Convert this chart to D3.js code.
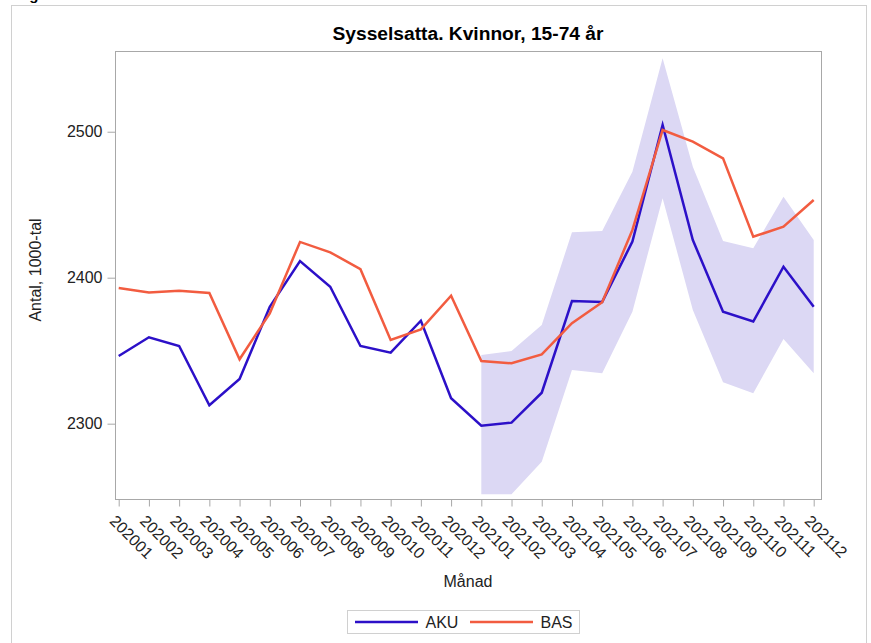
<!DOCTYPE html>
<html>
<head>
<meta charset="utf-8">
<script src="https://cdn.jsdelivr.net/npm/d3@7"></script>
<style>
  html, body { margin: 0; padding: 0; background: #fff; }
  svg { display: block; }
  text { font-family: "Liberation Sans", Arial, sans-serif; fill: #222; }
</style>
</head>
<body>
<svg id="chart" width="871" height="643"></svg>
<script>
const months = ["202001","202002","202003","202004","202005","202006","202007","202008","202009","202010","202011","202012",
                "202101","202102","202103","202104","202105","202106","202107","202108","202109","202110","202111","202112"];
const aku = [2346.4,2359.2,2353.2,2312.6,2330.6,2380.1,2411.4,2393.8,2353.2,2348.6,2370.5,2317.4,
             2298.6,2300.7,2321.2,2384.0,2383.4,2424.7,2504.6,2425.8,2376.7,2370.0,2407.5,2380.1];
const bas = [2393.0,2389.8,2391.1,2389.5,2344.1,2375.6,2424.5,2417.4,2405.8,2357.3,2364.6,2387.7,
             2342.9,2341.4,2347.5,2368.8,2383.2,2432.7,2501.2,2493.2,2481.8,2428.1,2434.9,2453.2];
const bandMonths = ["202101","202102","202103","202104","202105","202106","202107","202108","202109","202110","202111","202112"];
const bandUpper = [2347.0,2349.8,2367.6,2431.1,2432.0,2472.6,2550.3,2476.0,2425.1,2420.1,2455.5,2425.8];
const bandLower = [2251.6,2251.6,2274.0,2336.8,2334.5,2376.7,2454.4,2377.9,2328.4,2320.8,2358.0,2334.5];
const yTicks = [2300, 2400, 2500];
const seriesNames = ["AKU", "BAS"];
const title = "Sysselsatta. Kvinnor, 15-74 år";
const yLabel = "Antal, 1000-tal";
const xLabel = "Månad";

const colors = { AKU: "#2c10c8", BAS: "#f25c40", band: "#dcd8f4" };

const svg = d3.select("#chart");

// outer border
svg.append("rect").attr("x", 11.5).attr("y", 5.5).attr("width", 855).attr("height", 650)
  .attr("fill", "none").attr("stroke", "#d0d0d0").attr("stroke-width", 1);

// cut-off figure caption at top-left (only its descender is visible in the reference)
svg.append("text").attr("x", 16).attr("y", 0).attr("font-size", 15).attr("font-weight", "bold")
  .style("fill", "#000").text("Fig.");

const frame = { left: 115.5, top: 51.5, right: 821.5, bottom: 499.5 };

const x = d3.scalePoint().domain(months).range([118.7, 813.7]);
const y = d3.scaleLinear().domain([2248.4, 2555.3]).range([499, 51]);

// band
const bandData = bandMonths.map((m, i) => ({ m, lo: bandLower[i], hi: bandUpper[i] }));
svg.append("path").datum(bandData)
  .attr("d", d3.area().x(d => x(d.m)).y0(d => y(d.lo)).y1(d => y(d.hi)))
  .attr("fill", colors.band).attr("stroke", "none");

// lines
const line = d3.line().x(d => x(d.m)).y(d => y(d.v));
svg.append("path").datum(months.map((m, i) => ({ m, v: aku[i] })))
  .attr("d", line).attr("fill", "none").attr("stroke", colors.AKU).attr("stroke-width", 2.5)
  .attr("stroke-linejoin", "miter");
svg.append("path").datum(months.map((m, i) => ({ m, v: bas[i] })))
  .attr("d", line).attr("fill", "none").attr("stroke", colors.BAS).attr("stroke-width", 2.5)
  .attr("stroke-linejoin", "miter");

// frame
svg.append("rect").attr("x", frame.left).attr("y", frame.top)
  .attr("width", frame.right - frame.left).attr("height", frame.bottom - frame.top)
  .attr("fill", "none").attr("stroke", "#a8a8a8").attr("stroke-width", 1);

// y axis
const yAxis = d3.axisLeft(y).tickValues(yTicks).tickFormat(d3.format("d")).tickSize(8).tickPadding(5);
const gy = svg.append("g").attr("transform", `translate(${frame.left},0)`).call(yAxis);
gy.select(".domain").remove();
gy.selectAll(".tick line").attr("stroke", "#a8a8a8");
gy.selectAll(".tick text").attr("font-size", 16).attr("font-family", "Liberation Sans, Arial, sans-serif").style("fill", "#222");

// x axis
const xAxis = d3.axisBottom(x).tickSize(7).tickFormat(d => d);
const gx = svg.append("g").attr("transform", `translate(0,${frame.bottom})`).call(xAxis);
gx.select(".domain").remove();
gx.selectAll(".tick line").attr("stroke", "#a8a8a8");
gx.selectAll(".tick text")
  .attr("font-size", 16).attr("font-family", "Liberation Sans, Arial, sans-serif").style("fill", "#222")
  .attr("text-anchor", "start").attr("dy", null)
  .attr("transform", "translate(-10.5,22.5) rotate(45)")
  .attr("x", 0).attr("y", 0);

// titles
svg.append("text").attr("x", 468).attr("y", 40).attr("text-anchor", "middle")
  .attr("font-size", 19.2).attr("font-weight", "bold").style("fill", "#000").text(title);
svg.append("text").attr("transform", "translate(41,270) rotate(-90)").attr("text-anchor", "middle")
  .attr("font-size", 16).text(yLabel);
svg.append("text").attr("x", 468).attr("y", 587).attr("text-anchor", "middle")
  .attr("font-size", 16).text(xLabel);

// legend
const lg = svg.append("g");
lg.append("rect").attr("x", 347.5).attr("y", 610.5).attr("width", 232).attr("height", 23)
  .attr("fill", "#fff").attr("stroke", "#d0d0d0");
const legendItems = [
  { name: seriesNames[0], color: colors.AKU, x1: 355, x2: 418, tx: 425.5 },
  { name: seriesNames[1], color: colors.BAS, x1: 470, x2: 533, tx: 540.5 }
];
legendItems.forEach(it => {
  lg.append("line").attr("x1", it.x1).attr("x2", it.x2).attr("y1", 622).attr("y2", 622)
    .attr("stroke", it.color).attr("stroke-width", 2.5);
  lg.append("text").attr("x", it.tx).attr("y", 628).attr("font-size", 16).text(it.name);
});
</script>
</body>
</html>
